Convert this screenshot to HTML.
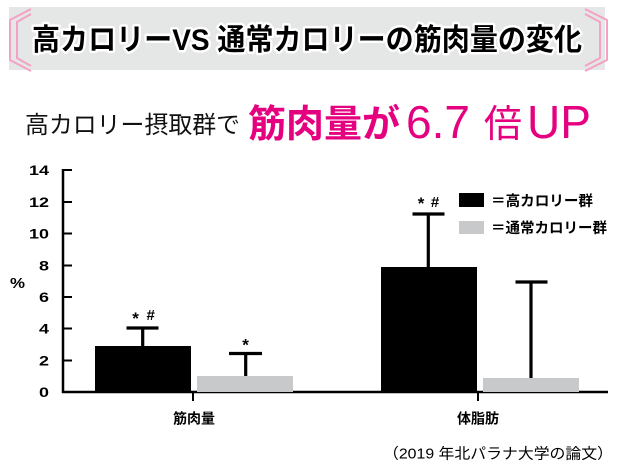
<!DOCTYPE html>
<html><head><meta charset="utf-8"><style>
html,body{margin:0;padding:0;background:#fff;}
svg{display:block;}
text{font-family:"Liberation Sans","Noto Sans CJK JP",sans-serif;}
</style></head><body>
<svg width="625" height="467" viewBox="0 0 625 467" xmlns="http://www.w3.org/2000/svg">
<rect x="0" y="0" width="625" height="467" fill="#fff"/>
<!-- banner -->
<rect x="9" y="7" width="596" height="63" fill="#e5e6e6"/>
<g fill="none" stroke="#f2a2c4" stroke-width="2">
<polyline points="31,9 10,20 10,60 31,71"/>
<polyline points="31,14 17,22 17,58 31,66"/>
<polyline points="585,9 607,20 607,60 585,71"/>
<polyline points="585,14 600,22 600,58 585,66"/>
</g>
<text x="32" y="50" font-size="30" font-weight="bold" fill="#000" stroke="#fff" stroke-width="5" stroke-linejoin="round" paint-order="stroke" textLength="550" lengthAdjust="spacingAndGlyphs">高カロリーVS 通常カロリーの筋肉量の変化</text>
<!-- subtitle -->
<text x="25" y="133" font-size="24" fill="#111" textLength="215" lengthAdjust="spacingAndGlyphs">高カロリー摂取群で</text>
<text x="248" y="137" font-size="38" font-weight="bold" fill="#e4007f" textLength="152" lengthAdjust="spacingAndGlyphs">筋肉量が</text>
<text x="406" y="138" font-size="46" fill="#e4007f">6.7</text>
<text x="484" y="137" font-size="38" fill="#e4007f">倍</text>
<text x="527" y="138" font-size="46" fill="#e4007f">UP</text>
<!-- axes -->
<g stroke="#000" stroke-width="2.5" fill="none">
<line x1="63" y1="169" x2="63" y2="393"/>
<line x1="62" y1="392" x2="608" y2="392"/>
</g>
<g stroke="#000" stroke-width="2">
<line x1="63" y1="170" x2="72" y2="170"/>
<line x1="63" y1="202" x2="72" y2="202"/>
<line x1="63" y1="233.5" x2="72" y2="233.5"/>
<line x1="63" y1="265.5" x2="72" y2="265.5"/>
<line x1="63" y1="297" x2="72" y2="297"/>
<line x1="63" y1="328.5" x2="72" y2="328.5"/>
<line x1="63" y1="360.5" x2="72" y2="360.5"/>
<line x1="193" y1="392" x2="193" y2="401"/>
<line x1="478" y1="392" x2="478" y2="401"/>
</g>
<g font-size="14" font-weight="bold" fill="#000" text-anchor="end">
<text x="49" y="175" textLength="20" lengthAdjust="spacingAndGlyphs">14</text>
<text x="49" y="207" textLength="20" lengthAdjust="spacingAndGlyphs">12</text>
<text x="49" y="238.5" textLength="20" lengthAdjust="spacingAndGlyphs">10</text>
<text x="49" y="270.5" textLength="10" lengthAdjust="spacingAndGlyphs">8</text>
<text x="49" y="302" textLength="10" lengthAdjust="spacingAndGlyphs">6</text>
<text x="49" y="333.5" textLength="10" lengthAdjust="spacingAndGlyphs">4</text>
<text x="49" y="365.5" textLength="10" lengthAdjust="spacingAndGlyphs">2</text>
<text x="49" y="397" textLength="10" lengthAdjust="spacingAndGlyphs">0</text>
</g>
<text x="10" y="288" font-size="15" font-weight="bold" fill="#000" textLength="15" lengthAdjust="spacingAndGlyphs">%</text>
<!-- bars -->
<rect x="95" y="346" width="96" height="46" fill="#000"/>
<rect x="197" y="376" width="96" height="16" fill="#c8c9ca"/>
<rect x="381" y="267" width="96" height="125" fill="#000"/>
<rect x="483" y="378" width="96" height="14" fill="#c8c9ca"/>
<!-- error bars -->
<g stroke="#000" stroke-width="3.2" fill="none">
<line x1="142.7" y1="346" x2="142.7" y2="327"/>
<line x1="126.5" y1="328" x2="158.5" y2="328"/>
<line x1="245.7" y1="376" x2="245.7" y2="353"/>
<line x1="229" y1="353.5" x2="262" y2="353.5"/>
<line x1="428.3" y1="267" x2="428.3" y2="213"/>
<line x1="412.5" y1="214" x2="444.5" y2="214"/>
<line x1="531" y1="378" x2="531" y2="281"/>
<line x1="515.5" y1="282" x2="547.5" y2="282"/>
</g>
<!-- significance marks -->
<g fill="#000" font-weight="bold" text-anchor="middle">
<text x="135.5" y="324" font-size="17">*</text>
<text x="150.7" y="320" font-size="15">#</text>
<text x="245.5" y="350.5" font-size="17">*</text>
<text x="421" y="209" font-size="17">*</text>
<text x="435" y="207" font-size="15">#</text>
</g>
<!-- legend -->
<rect x="459" y="193" width="25" height="14" fill="#000"/>
<rect x="459" y="221" width="25" height="13" fill="#c8c9ca"/>
<text x="491" y="206" font-size="14.5" font-weight="bold" fill="#000" textLength="102" lengthAdjust="spacingAndGlyphs">＝高カロリー群</text>
<text x="491" y="233" font-size="14.5" font-weight="bold" fill="#000" textLength="116" lengthAdjust="spacingAndGlyphs">＝通常カロリー群</text>
<!-- category labels -->
<text x="173" y="423.5" font-size="14" font-weight="bold" fill="#000" textLength="42" lengthAdjust="spacingAndGlyphs">筋肉量</text>
<text x="457" y="423.5" font-size="14" font-weight="bold" fill="#000" textLength="42" lengthAdjust="spacingAndGlyphs">体脂肪</text>
<!-- citation -->
<text x="383" y="458.5" font-size="15" fill="#000" textLength="230" lengthAdjust="spacingAndGlyphs">（2019 年北パラナ大学の論文）</text>
</svg>
</body></html>
